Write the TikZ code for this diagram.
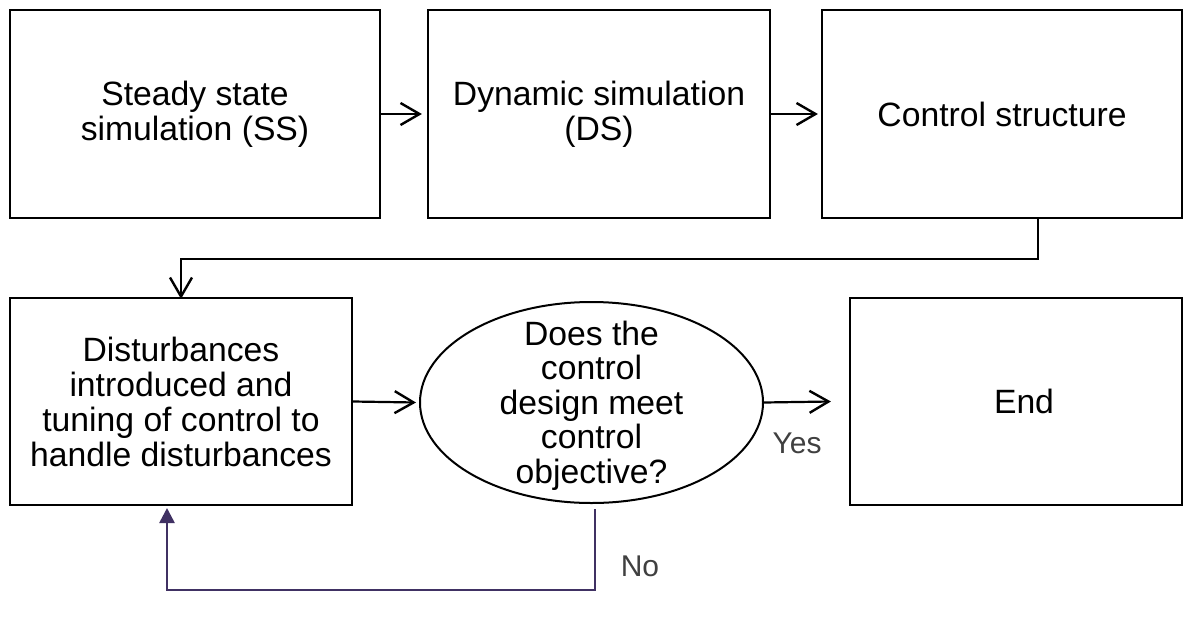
\documentclass[tikz,border=0pt]{standalone}
\usepackage{fontspec}
\setmainfont{Liberation Sans}
\usetikzlibrary{shapes.geometric,arrows.meta}
\definecolor{fpurple}{RGB}{64,49,99}
\definecolor{lblgray}{RGB}{64,64,64}
\tikzset{
  box/.style={draw=black,line width=2.2pt,minimum width=#1,inner sep=0pt,align=center,
    font=\fontsize{33.7}{35}\selectfont},
  flow/.style={draw=black,line width=2.2pt,-{Straight Barb[length=19pt,width=22pt,line width=2.4pt]}},
  back/.style={draw=fpurple,line width=2.6pt,-{Triangle[length=15pt,width=15pt]}},
  lbl/.style={text=lblgray,font=\fontsize{30}{34}\selectfont,inner sep=0pt}
}
\begin{document}
\begin{tikzpicture}[x=1pt,y=-1pt]
\useasboundingbox (0,0) rectangle (1193,621);
\node[box=370pt,minimum height=208pt] (b1) at (195,114) {Steady state\\simulation (SS)};
\node[box=342pt,minimum height=208pt] (b2) at (599,114) {Dynamic simulation\\(DS)};
\node[box=360pt,minimum height=208pt] (b3) at (1002,114) {Control structure};
\node[box=342pt,minimum height=207pt] (b4) at (181,401.5) {Disturbances\\introduced and\\tuning of control to\\handle disturbances};
\node[draw=black,line width=2pt,ellipse,minimum width=343pt,minimum height=201pt,inner sep=0pt] (q) at (591.5,402.5) {};
\node[align=center,inner sep=0pt,font=\fontsize{33.7}{34.5}\selectfont] (qt) at ([yshift=-3pt]q.center) {Does the\\control\\design meet\\control\\objective?};
\node[box=332pt,minimum height=207pt] (b5) at (1016,401.5) {\hspace*{16pt}End};
\node[lbl] (yes) at (797,443) {Yes};
\node[lbl] (no) at (640,566) {No};
\coordinate (c1) at (1038,259);
\coordinate (c2) at (181,259);
\coordinate (p0) at (595,509);
\coordinate (p1) at (595,590);
\coordinate (p2) at (167,590);
\coordinate (p3) at (167,508);
\draw[flow] (b1.east) -- ([xshift=-5pt]b2.west);
\draw[flow] (b2.east) -- ([xshift=-3pt]b3.west);
\draw[flow] (b3.south -| c1) -- (c1) -- (c2) -- ([yshift=-2pt]b4.north);
\draw[flow] (b4.east) -- ([xshift=-3pt]q.west);
\draw[flow] (q.east) -- ([xshift=-18pt]b5.west);
\draw[back] (p0) -- (p1) -- (p2) -- (p3);
\end{tikzpicture}
\end{document}
